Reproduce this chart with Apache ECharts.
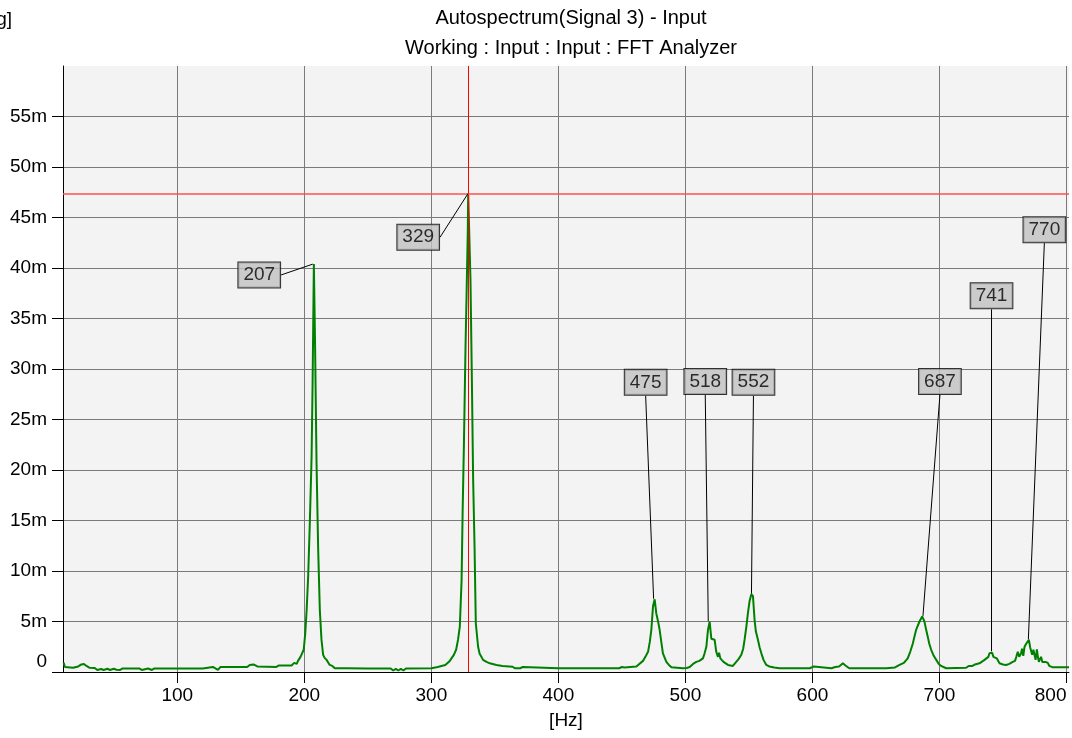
<!DOCTYPE html>
<html>
<head>
<meta charset="utf-8">
<title>Autospectrum(Signal 3) - Input</title>
<script src="https://cdn.jsdelivr.net/npm/echarts@6/dist/echarts.min.js"></script>
<style>
html, body { margin: 0; padding: 0; background: #fff; }
#main { width: 1072px; height: 738px; }
</style>
</head>
<body>
<div id="main"></div>
<script>
// spectrum: frequency [Hz] and level [m]
var freqs = [
    10.5, 11.5, 13, 18, 22, 24.5, 26.5, 28.5, 31, 35, 37, 40, 42, 45, 47, 50, 52, 55, 57, 60,
    70, 72, 73, 77, 80, 82, 100, 120, 128, 130, 132, 134, 155, 157, 160, 163, 178, 180, 190, 192,
    194, 195, 197, 198.5, 199.5, 200.7, 201.8, 203, 204.3, 205.7, 206.5, 207.2, 207.5, 208.5, 209.6, 210.9, 212.2, 213.5, 214.8, 216,
    217.5, 219, 220, 222, 224, 232, 233, 234, 250, 268, 270, 272, 274, 276, 278, 280, 300, 305, 308, 311,
    314.5, 316, 317.7, 319.5, 321, 322.4, 323.8, 324.6, 325.6, 326.9, 327.7, 328.7, 329, 330.8, 331.9, 332.9, 334, 335, 336.8, 338,
    339.4, 340.7, 343.4, 346, 351.3, 356, 364, 365.7, 370, 371, 372, 373, 400, 448, 450, 452, 461.4, 462.7, 466.6, 468.5,
    470.6, 472, 473.2, 474.5, 475.8, 477.1, 478.5, 479.7, 481, 482.3, 485, 487, 489, 498, 501, 503.4, 506, 508.6, 511, 513.8,
    515, 516.5, 517.8, 519.1, 520.4, 521.5, 523, 524.3, 525.6, 526.5, 527.5, 529, 530, 530.9, 533.5, 537.4, 540, 542, 544, 545.5,
    546.6, 548, 549.2, 550.5, 551.9, 553.2, 554.5, 555.5, 557.1, 558.5, 559.8, 561.5, 563.7, 566, 570, 574, 598, 599, 601, 602,
    615, 618, 621, 624, 626, 629, 648, 649, 650, 656, 657, 658, 665, 668.6, 672, 675, 677, 679, 680.5, 681.7,
    684.3, 686.4, 688.2, 689.5, 690.8, 692, 693.5, 695.5, 697.5, 699.5, 701.3, 705.3, 721, 723, 724, 726, 728, 729.5, 731.5, 733,
    735.5, 737, 738.5, 739.4, 740.6, 741.5, 742.5, 743.4, 745.1, 746, 747.3, 750, 752.5, 755, 757.7, 759.5, 760.5, 761.7, 762.8, 764.3,
    765, 766, 767, 768.3, 770.4, 771.4, 772.3, 773, 774, 775, 775.7, 776.7, 777.5, 778.3, 779.2, 780, 781, 781.9, 783.5, 785.3,
    786.5, 787.5, 789.2, 793, 800, 802
];
var levels = [
    0.95, 0.5, 0.45, 0.42, 0.55, 0.75, 0.8, 0.6, 0.42, 0.4, 0.2, 0.3, 0.2, 0.32, 0.2, 0.32, 0.22, 0.2, 0.35, 0.35,
    0.35, 0.2, 0.35, 0.35, 0.2, 0.35, 0.35, 0.35, 0.5, 0.35, 0.2, 0.5, 0.5, 0.7, 0.75, 0.55, 0.5, 0.65, 0.65, 0.9,
    0.8, 1.1, 1.5, 1.6, 2.2, 3.8, 6.1, 9.4, 14.7, 21.3, 28.6, 36.8, 40.4, 31.9, 20.7, 12.1, 6.1, 3.2, 1.7, 1.4,
    1.2, 0.9, 0.7, 0.6, 0.37, 0.37, 0.55, 0.37, 0.35, 0.35, 0.15, 0.3, 0.15, 0.3, 0.15, 0.35, 0.37, 0.5, 0.6, 0.7,
    1.1, 1.2, 1.7, 2.2, 3.2, 4.5, 9.1, 15.7, 22.3, 32.2, 37.2, 43.8, 47.4, 38.8, 28.9, 19.0, 12.4, 4.8, 2.5, 1.8,
    1.5, 1.2, 1.0, 0.86, 0.7, 0.6, 0.52, 0.37, 0.37, 0.2, 0.5, 0.37, 0.37, 0.37, 0.5, 0.45, 0.55, 0.6, 1.1, 1.5,
    2.0, 3.0, 4.2, 6.5, 7.2, 5.8, 5.0, 4.2, 3.0, 1.85, 1.0, 0.7, 0.47, 0.37, 0.4, 0.5, 0.8, 1.0, 1.1, 1.35,
    1.8, 2.5, 4.2, 5.0, 3.3, 3.3, 3.2, 2.0, 1.5, 1.9, 1.35, 1.45, 1.0, 0.86, 0.7, 0.6, 1.0, 1.3, 1.7, 2.3,
    3.2, 4.5, 5.8, 7.0, 7.7, 7.5, 5.1, 4.0, 3.2, 2.4, 1.85, 1.2, 0.7, 0.55, 0.45, 0.37, 0.37, 0.55, 0.55, 0.37,
    0.37, 0.5, 0.55, 0.86, 0.65, 0.37, 0.37, 0.55, 0.37, 0.37, 0.55, 0.37, 0.45, 0.7, 0.9, 1.35, 2.0, 2.8, 3.6, 4.2,
    5.0, 5.5, 5.0, 4.2, 3.5, 2.8, 2.2, 1.6, 1.2, 0.8, 0.6, 0.37, 0.42, 0.6, 0.5, 0.6, 0.75, 0.6, 0.86, 0.8,
    1.2, 1.3, 1.5, 1.85, 2.0, 1.9, 1.5, 1.6, 1.35, 1.2, 0.86, 0.75, 0.7, 0.8, 1.0, 1.1, 1.5, 2.0, 1.5, 1.85,
    2.3, 1.6, 2.5, 2.8, 3.2, 2.45, 2.6, 1.7, 2.2, 1.6, 1.2, 2.25, 1.5, 1.0, 1.3, 1.5, 1.0, 0.86, 1.0, 0.9,
    0.6, 0.75, 0.46, 0.46, 0.46, 0.46
];

// peak markers
var peakFreqs = [207, 329, 475, 518, 552, 687, 741, 770];
var peakLevels = [40.4, 47.4, 7.2, 5.0, 7.7, 5.5, 2.0, 3.2];

// cursor
var cursorFreq = 329;
var cursorLevel = 47.4;

// ticks
var xTicks = [100, 200, 300, 400, 500, 600, 700, 800];
var yTicks = [0, 5, 10, 15, 20, 25, 30, 35, 40, 45, 50, 55];

// where each marker box sits relative to its peak (px)
var labelOffsets = [[-54, 11], [-50, 44], [-8, -217], [-3, -240], [2, -212], [17, -235], [0, -356], [16, -410]];

var FONT = '"Liberation Sans", Arial, sans-serif';

var myChart = echarts.init(document.getElementById('main'));

var lineData = freqs.map(function (f, i) { return [f, levels[i]]; });
var peakData = peakFreqs.map(function (f, i) { return [f, peakLevels[i]]; });

var option = {
    animation: false,
    backgroundColor: '#ffffff',
    textStyle: { fontFamily: FONT },
    title: {
        text: 'Autospectrum(Signal 3) - Input\nWorking : Input : Input : FFT Analyzer',
        left: 566,
        top: -2,
        textAlign: 'center',
        textStyle: { fontFamily: FONT, fontSize: 20, fontWeight: 'normal', color: '#000', lineHeight: 30 }
    },
    graphic: [{
        type: 'text',
        x: -9,
        y: 10,
        style: { text: '[g]', fontFamily: FONT, fontSize: 19, fill: '#000' }
    }],
    grid: {
        left: 63, right: 3, top: 66, bottom: 66,
        show: true, backgroundColor: '#f3f3f3', borderWidth: 0
    },
    xAxis: {
        type: 'value',
        min: 10,
        max: 802,
        name: '[Hz]',
        nameLocation: 'middle',
        nameGap: 39,
        nameTextStyle: { fontFamily: FONT, fontSize: 19, color: '#000' },
        axisLine: { lineStyle: { color: '#000', width: 1 } },
        axisTick: { customValues: xTicks, length: 11, lineStyle: { color: '#000' } },
        axisLabel: { customValues: xTicks, fontFamily: FONT, fontSize: 19, color: '#000', margin: 14, alignMaxLabel: 'right' },
        splitLine: { show: true, lineStyle: { color: '#7a7a7a', width: 1 } }
    },
    yAxis: {
        type: 'value',
        min: 0,
        max: 60,
        axisLine: { show: true, lineStyle: { color: '#000', width: 1 } },
        axisTick: { show: true, customValues: yTicks, length: 11, lineStyle: { color: '#000' } },
        axisLabel: {
            customValues: yTicks,
            fontFamily: FONT, fontSize: 19, color: '#000', margin: 16,
            formatter: function (v) { return v === 0 ? '{z|0}' : v + 'm'; },
            rich: { z: { fontFamily: FONT, fontSize: 19, color: '#000', padding: [0, 0, 20, 0] } }
        },
        splitLine: { show: true, lineStyle: { color: '#7a7a7a', width: 1 } }
    },
    series: [
        {
            name: 'Autospectrum(Signal 3)',
            type: 'line',
            data: lineData,
            showSymbol: false,
            lineStyle: { color: '#008000', width: 2 },
            z: 3,
            markLine: {
                silent: true,
                symbol: ['none', 'none'],
                label: { show: false },
                lineStyle: { color: '#ff0000', width: 1, type: 'solid', opacity: 1 },
                data: [
                    { xAxis: cursorFreq, lineStyle: { color: '#ff0000', width: 1, type: 'solid' } },
                    { yAxis: cursorLevel, lineStyle: { color: '#ff5050', width: 1.5, type: 'solid' } }
                ]
            }
        },
        {
            name: 'peaks',
            type: 'scatter',
            data: peakData,
            symbolSize: 1,
            itemStyle: { color: 'rgba(0,0,0,0)' },
            z: 5,
            label: {
                show: true,
                position: 'inside',
                formatter: function (p) { return String(peakFreqs[p.dataIndex]); },
                fontFamily: FONT,
                fontSize: 19,
                color: '#000',
                backgroundColor: '#c0c0c0',
                borderColor: '#000',
                borderWidth: 1,
                padding: [3, 5, 2, 5],
                lineHeight: 20
            },
            labelLine: { show: true, lineStyle: { color: '#000', width: 1 } },
            labelLayout: function (p) {
                var o = labelOffsets[p.dataIndex];
                return { dx: o[0], dy: o[1] };
            }
        }
    ]
};

myChart.setOption(option);
</script>
</body>
</html>
